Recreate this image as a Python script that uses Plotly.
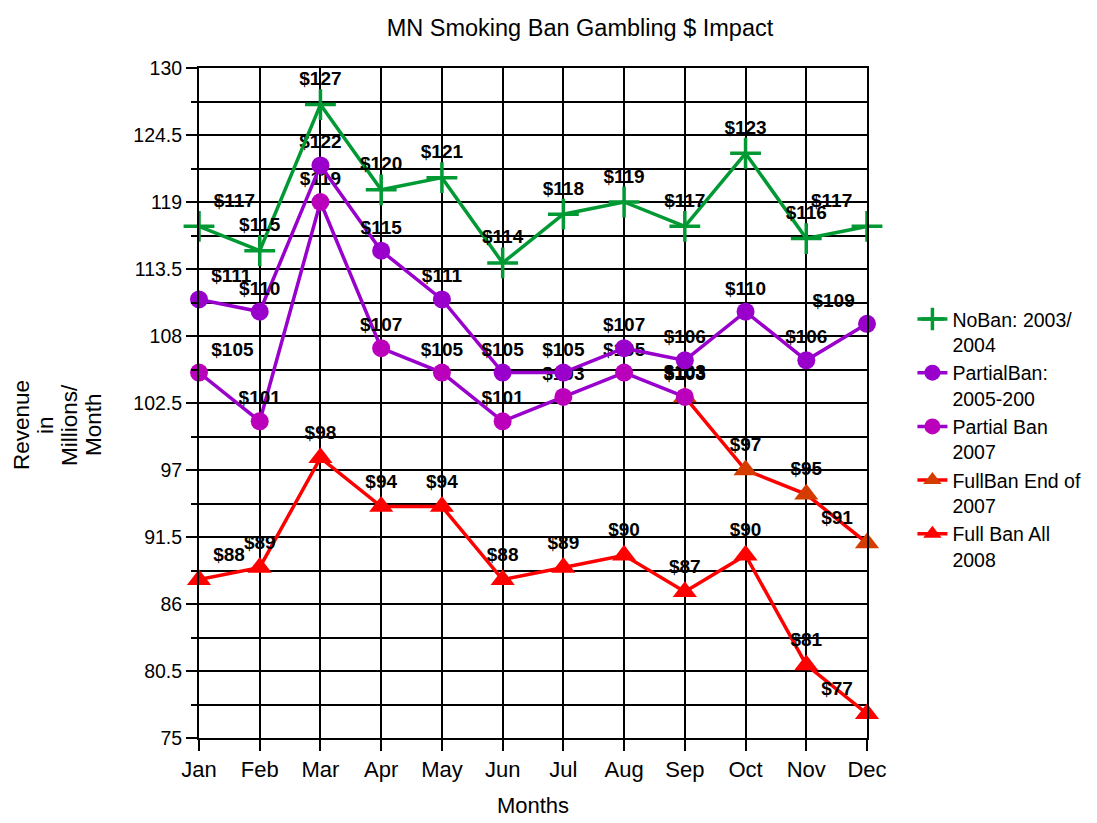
import plotly.graph_objects as go

months = ["Jan", "Feb", "Mar", "Apr", "May", "Jun", "Jul", "Aug", "Sep", "Oct", "Nov", "Dec"]

noban_2003_2004 = [117, 115, 127, 120, 121, 114, 118, 119, 117, 123, 116, 117]
partialban_2005_2006 = [111, 110, 122, 115, 111, 105, 105, 107, 106, 110, 106, 109]
partialban_2007_months = months[:9]
partialban_2007 = [105, 101, 119, 107, 105, 101, 103, 105, 103]
fullban_end2007_months = months[8:]
fullban_end2007 = [103, 97, 95, 91]
fullban_2008 = [88, 89, 98, 94, 94, 88, 89, 90, 87, 90, 81, 77]

y_ticks = [75, 80.5, 86, 91.5, 97, 102.5, 108, 113.5, 119, 124.5, 130]
y_title_lines = ["Revenue", "in", "Millions/", "Month"]

FONT = "Liberation Sans, Arial, sans-serif"

# the page body has an 8px default margin; size the figure so it fits the window
OFF = 8
W, H = 1097 - OFF, 823 - OFF
PLOT_L, PLOT_T = 199 - OFF, 68 - OFF
PLOT_W, PLOT_H = 668, 670


def labels(vals):
    return [f"${v}" for v in vals]


def textpos(xs):
    out = []
    for m in xs:
        if m == "Jan":
            out.append("top right")
        elif m == "Dec":
            out.append("top left")
        else:
            out.append("top center")
    return out


series = [
    # (name, x, y, line color, marker color, symbol, size, legend rank)
    ("Full Ban All<br>2008", months, fullban_2008, "#ff0000", "#ff0000", "triangle-up", 21, 5),
    ("FullBan End of<br>2007", fullban_end2007_months, fullban_end2007, "#ff0000", "#d53c00", "triangle-up", 21, 4),
    ("Partial Ban<br>2007", partialban_2007_months, partialban_2007, "#9900cc", "#bb00bb", "circle", 18, 3),
    ("PartialBan:<br>2005-200", months, partialban_2005_2006, "#9900cc", "#9900cc", "circle", 18, 2),
    ("NoBan: 2003/<br>2004", months, noban_2003_2004, "#009933", "#009933", "cross-thin", 22, 1),
]

fig = go.Figure()
for name, xs, ys, lc, mc, sym, sz, rank in series:
    marker = dict(symbol=sym, size=sz, color=mc)
    if sym == "cross-thin":
        marker["line"] = dict(width=3.5, color=mc)
    else:
        marker["line"] = dict(width=0)
    fig.add_trace(go.Scatter(
        x=xs, y=ys, name=name, mode="lines+markers+text",
        line=dict(color=lc, width=3.5),
        marker=marker,
        text=labels(ys),
        textposition=textpos(xs),
        textfont=dict(family=FONT, size=19, color="black", weight="bold"),
        cliponaxis=False,
        legendrank=rank,
    ))

# y-axis title, one rotated line per row (stacked left to right)
title_x_px = [21, 45, 69, 93]
for line, xpx in zip(y_title_lines, title_x_px):
    fig.add_annotation(
        text=line, textangle=-90, showarrow=False,
        xref="paper", yref="paper",
        x=(xpx - 199) / PLOT_W, y=(738 - 425) / PLOT_H,
        xanchor="center", yanchor="middle",
        font=dict(size=22.5, family=FONT, color="black"),
    )

fig.update_layout(
    width=W, height=H,
    paper_bgcolor="white", plot_bgcolor="white",
    margin=dict(l=PLOT_L, r=W - PLOT_L - PLOT_W, t=PLOT_T, b=H - PLOT_T - PLOT_H,
                autoexpand=False),
    font=dict(family=FONT, color="black"),
    title=dict(text="MN Smoking Ban Gambling $ Impact", x=(580 - OFF) / W, xanchor="center",
               y=1 - (28 - OFF) / H, yanchor="middle",
               font=dict(size=23.5, family=FONT, color="black")),
    showlegend=True,
    legend=dict(x=1.068, y=0.654, xanchor="left", yanchor="top",
                font=dict(size=19.5, family=FONT, color="black"),
                valign="top", tracegroupgap=16, itemwidth=30,
                bgcolor="rgba(0,0,0,0)"),
)

fig.update_xaxes(
    type="category", categoryorder="array", categoryarray=months,
    range=[0, 11],
    showgrid=True, gridcolor="black", gridwidth=2,
    showline=True, linecolor="black", linewidth=2, mirror=True,
    ticks="outside", ticklen=11, tickwidth=2, tickcolor="black",
    tickfont=dict(size=22, family=FONT, color="black"),
    title=dict(text="Months", font=dict(size=22, family=FONT, color="black"), standoff=16),
    zeroline=False,
)
fig.update_yaxes(
    range=[75, 130], tickvals=y_ticks, ticktext=[f"{v:g}" for v in y_ticks],
    showgrid=True, gridcolor="black", gridwidth=2,
    showline=True, linecolor="black", linewidth=2, mirror=True,
    ticks="outside", ticklen=11, tickwidth=2, tickcolor="black",
    minor=dict(dtick=2.75, tick0=75, ticks="outside", ticklen=6, tickwidth=2,
               tickcolor="black", showgrid=True, gridcolor="black", gridwidth=2),
    tickfont=dict(size=19.5, family=FONT, color="black"),
    zeroline=False,
)

fig.write_html("out.html")
